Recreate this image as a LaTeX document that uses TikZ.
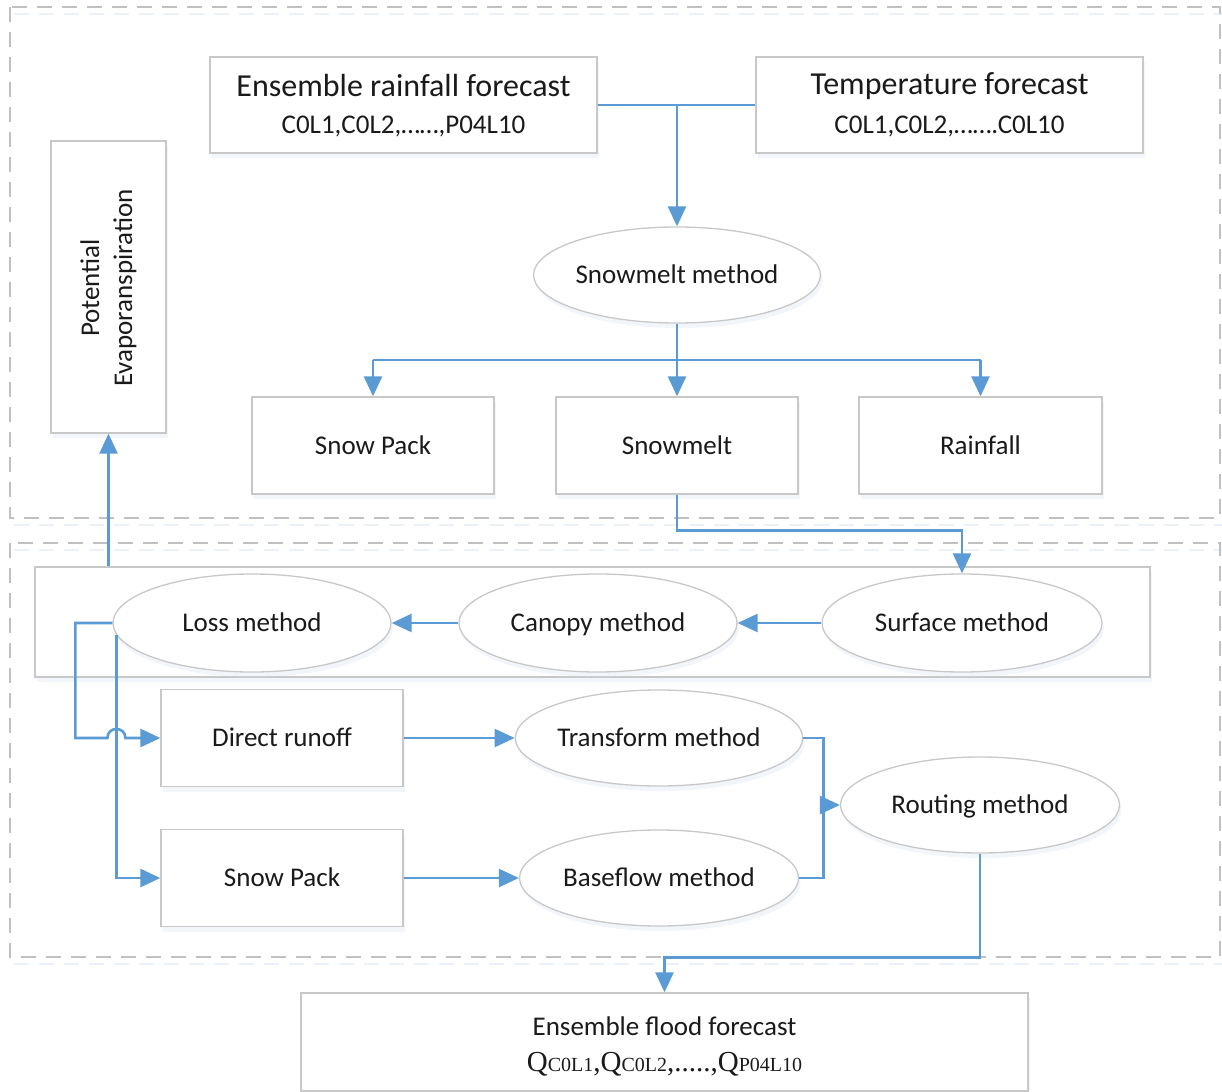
\documentclass[tikz,border=0pt]{standalone}
\usepackage{fontspec}
\setmainfont{Carlito}
\newfontfamily\timesf{Liberation Serif}
\usetikzlibrary{shapes.geometric,arrows.meta,shadows}
\definecolor{flowblue}{RGB}{91,155,213}
\definecolor{edgegray}{RGB}{200,200,200}
\definecolor{dashgray}{RGB}{192,192,192}
\definecolor{txt}{RGB}{26,26,26}
\definecolor{shade}{RGB}{214,228,243}
\begin{document}
\begin{tikzpicture}[x=1pt,y=-1pt,
  softshadow/.style={drop shadow={shadow xshift=2pt,shadow yshift=-5pt,fill=shade,opacity=0.3}},
  box/.style={draw=edgegray,line width=1.3pt,fill=white,rectangle,inner sep=0pt,softshadow,text=txt,font=\fontsize{27}{32}\selectfont,text height=23pt,text depth=6pt},
  ell/.style={draw=edgegray,line width=1.3pt,fill=white,ellipse,inner sep=0pt,softshadow,text=txt,font=\fontsize{27}{32}\selectfont,text height=23pt,text depth=6pt},
  lbl/.style={text=txt,inner sep=0pt},
  flow/.style={draw=flowblue,line width=2.6pt,-{Triangle[length=20pt,width=18pt]}},
  plainflow/.style={draw=flowblue,line width=2.6pt},
  region/.style={draw=dashgray,line width=1.4pt,dash pattern=on 15pt off 10pt},
  regionshade/.style={draw=shade,line width=2pt,dash pattern=on 15pt off 10pt,opacity=0.5},
]
\useasboundingbox (0,0) rectangle (1222,1091);
\fill[white] (0,0) rectangle (1222,1091);

% dashed regions
\draw[regionshade] (14,14) -- (1222,14);
\draw[regionshade] (14,525) -- (1222,525);
\draw[regionshade] (14,550) -- (1222,550);
\draw[regionshade] (14,964) -- (1222,964);
\draw[region] (10,7) rectangle (1220,518);
\draw[region] (10,543) rectangle (1220,957);

% top forecasts
\node[box,minimum width=387pt,minimum height=96pt] (rain) at (403.5,105) {};
\node[lbl,font=\fontsize{32}{38}\selectfont] (rainT) at (403.5,86) {Ensemble rainfall forecast};
\node[lbl,font=\fontsize{27}{32}\selectfont] (rainS) at (403.5,126) {C0L1,C0L2,……,P04L10};
\node[box,minimum width=387pt,minimum height=96pt] (temp) at (949.5,105) {};
\node[lbl,font=\fontsize{32}{38}\selectfont] (tempT) at (949.5,86) {Temperature forecast};
\node[lbl,font=\fontsize{27}{32}\selectfont] (tempS) at (949.5,126) {C0L1,C0L2,…….C0L10};

% potential evapotranspiration
\node[box,minimum width=115pt,minimum height=292pt] (pet) at (108.5,287) {};
\node[lbl,rotate=90,align=center,font=\fontsize{27}{33}\selectfont] (petT) at (108.5,288) {Potential\\Evaporanspiration};

% snowmelt part
\node[ell,minimum width=280pt,minimum height=96pt] (sm) at (677,275) {Snowmelt method};
\node[box,minimum width=242pt,minimum height=97pt] (sp1) at (373,445.5) {Snow Pack};
\node[box,minimum width=242pt,minimum height=97pt] (smb) at (677,445.5) {Snowmelt};
\node[box,minimum width=243pt,minimum height=97pt] (rf) at (980.5,445.5) {Rainfall};

% methods row
\node[box,minimum width=1115pt,minimum height=110pt] (big) at (592.5,622) {};
\node[ell,minimum width=280pt,minimum height=98pt] (surf) at (962,623) {Surface method};
\node[ell,minimum width=278pt,minimum height=98pt] (can) at (598,623) {Canopy method};
\node[ell,minimum width=278pt,minimum height=98pt] (loss) at (252,623) {Loss method};

% runoff part
\node[box,minimum width=242pt,minimum height=97pt] (dr) at (282,738) {Direct runoff};
\node[box,minimum width=242pt,minimum height=97pt] (sp2) at (282,878) {Snow Pack};
\node[ell,minimum width=279pt,minimum height=96pt] (trans) at (659,738) {Transform method};
\node[ell,minimum width=279pt,minimum height=96pt] (base) at (659,878) {Baseflow method};
\node[ell,minimum width=279pt,minimum height=96pt] (rout) at (980,805) {Routing method};

% flood forecast
\node[box,minimum width=727pt,minimum height=98pt] (flood) at (664.5,1042) {};
\node[lbl,font=\fontsize{27}{32}\selectfont] (floodT) at (664.5,1026) {Ensemble flood forecast};
\node[lbl,font=\timesf\fontsize{29}{34}\selectfont] (floodS) at (664.5,1064)
  {Q{\fontsize{20}{24}\selectfont C0L1},Q{\fontsize{20}{24}\selectfont C0L2},.....,Q{\fontsize{20}{24}\selectfont P04L10}};

% connectors
\coordinate (j1) at (sm.north |- rain.east);
\draw[plainflow] (rain.east) -- (temp.west);
\draw[flow] (j1) -- (sm.north);
\draw[flow] (sm.south) -- (smb.north);
\coordinate (j2) at (677,360);
\draw[plainflow] (sp1.north |- j2) -- (rf.north |- j2);
\draw[flow] (sp1.north |- j2) -- (sp1.north);
\draw[flow] (rf.north |- j2) -- (rf.north);
\draw[flow] (smb.south) -- ++(0,36) -| (surf.north);
\draw[flow] (surf.west) -- (can.east);
\draw[flow] (can.west) -- (loss.east);
\draw[flow] (pet.south |- big.north) -- (pet.south);
\coordinate (jc) at (loss.185 |- dr.west);
\draw[flow] (loss.west) -- ++(-37,0) |- ([xshift=-9pt]jc)
  .. controls ([xshift=-9pt,yshift=12pt]jc) and ([xshift=9pt,yshift=12pt]jc) .. ([xshift=9pt]jc)
  -- (dr.west);
\draw[flow] (loss.185) |- (sp2.west);
\draw[flow] (dr.east) -- (trans.west);
\draw[flow] (sp2.east) -- (base.west);
\coordinate (mid) at ([xshift=20pt]trans.east);
\draw[plainflow] (trans.east) -- (mid) |- (base.east);
\draw[flow] (mid |- rout.west) -- (rout.west);
\draw[flow] (rout.south) -- ++(0,104) -| (flood.north);
\end{tikzpicture}
\end{document}
